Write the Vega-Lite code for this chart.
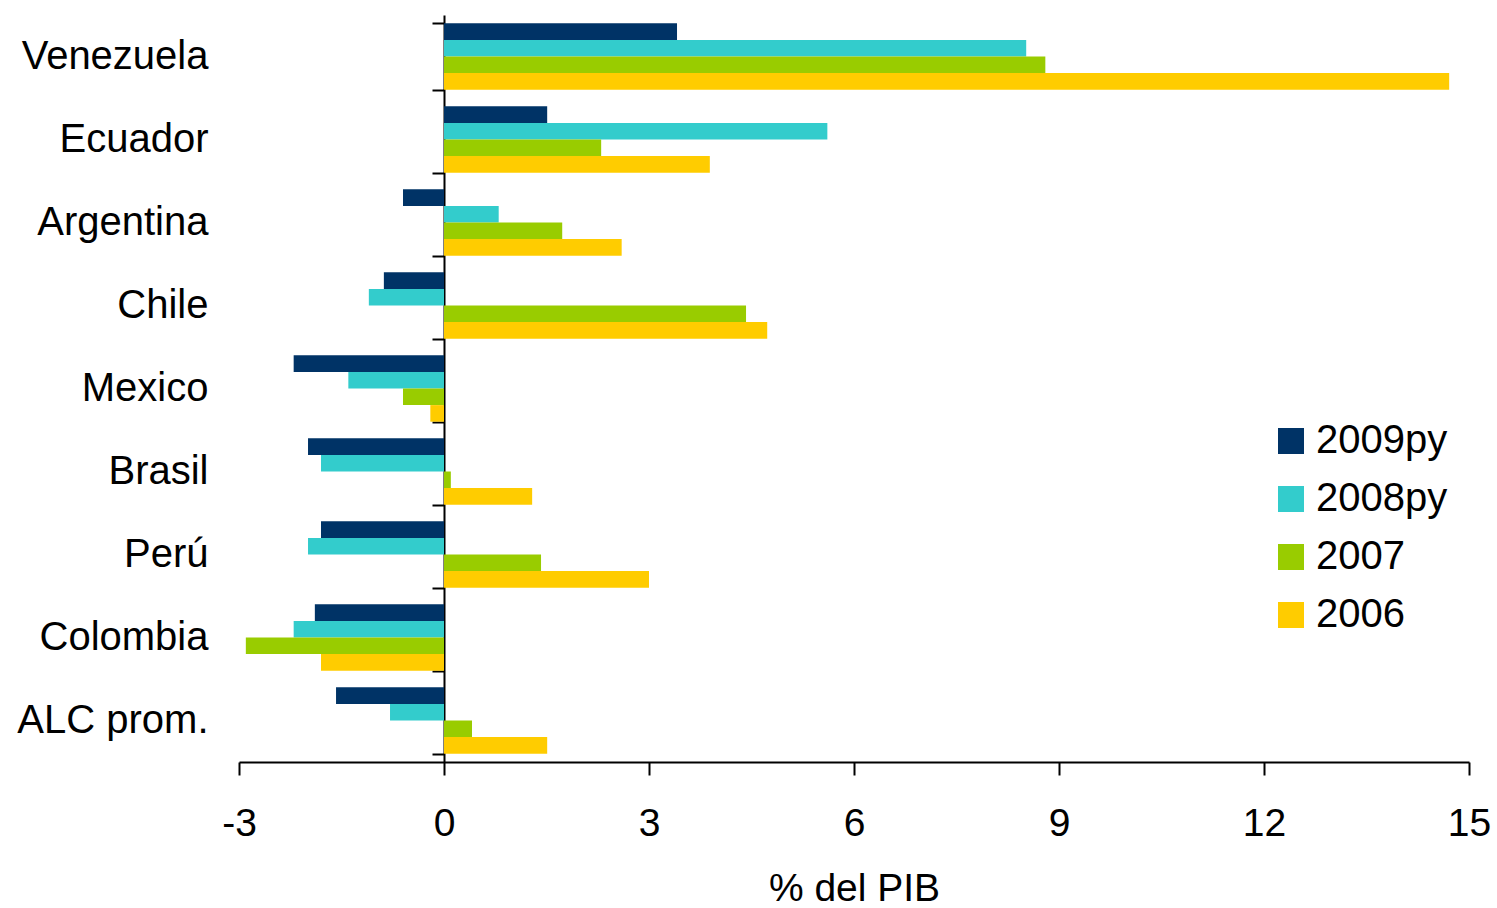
{
  "$schema": "https://vega.github.io/schema/vega-lite/v6.json",
  "width": 1230,
  "height": 747,
  "autosize": "none",
  "padding": {"left": 239, "top": 15, "right": 28, "bottom": 146},
  "background": "white",
  "config": {
    "view": {"stroke": null},
    "font": "Liberation Sans",
    "axis": {"labelFont": "Liberation Sans", "titleFont": "Liberation Sans", "labelColor": "#000000", "titleColor": "#000000", "grid": false}
  },
  "data": {
    "values": [
      {"pais": "Venezuela", "serie": "2009py", "valor": 3.41},
      {"pais": "Venezuela", "serie": "2008py", "valor": 8.52},
      {"pais": "Venezuela", "serie": "2007", "valor": 8.8},
      {"pais": "Venezuela", "serie": "2006", "valor": 14.71},
      {"pais": "Ecuador", "serie": "2009py", "valor": 1.51},
      {"pais": "Ecuador", "serie": "2008py", "valor": 5.61},
      {"pais": "Ecuador", "serie": "2007", "valor": 2.3},
      {"pais": "Ecuador", "serie": "2006", "valor": 3.89},
      {"pais": "Argentina", "serie": "2009py", "valor": -0.6},
      {"pais": "Argentina", "serie": "2008py", "valor": 0.8},
      {"pais": "Argentina", "serie": "2007", "valor": 1.73},
      {"pais": "Argentina", "serie": "2006", "valor": 2.6},
      {"pais": "Chile", "serie": "2009py", "valor": -0.88},
      {"pais": "Chile", "serie": "2008py", "valor": -1.1},
      {"pais": "Chile", "serie": "2007", "valor": 4.42},
      {"pais": "Chile", "serie": "2006", "valor": 4.73},
      {"pais": "Mexico", "serie": "2009py", "valor": -2.2},
      {"pais": "Mexico", "serie": "2008py", "valor": -1.4},
      {"pais": "Mexico", "serie": "2007", "valor": -0.6},
      {"pais": "Mexico", "serie": "2006", "valor": -0.2},
      {"pais": "Brasil", "serie": "2009py", "valor": -1.99},
      {"pais": "Brasil", "serie": "2008py", "valor": -1.8},
      {"pais": "Brasil", "serie": "2007", "valor": 0.1},
      {"pais": "Brasil", "serie": "2006", "valor": 1.29},
      {"pais": "Perú", "serie": "2009py", "valor": -1.8},
      {"pais": "Perú", "serie": "2008py", "valor": -1.99},
      {"pais": "Perú", "serie": "2007", "valor": 1.42},
      {"pais": "Perú", "serie": "2006", "valor": 3.0},
      {"pais": "Colombia", "serie": "2009py", "valor": -1.89},
      {"pais": "Colombia", "serie": "2008py", "valor": -2.2},
      {"pais": "Colombia", "serie": "2007", "valor": -2.9},
      {"pais": "Colombia", "serie": "2006", "valor": -1.8},
      {"pais": "ALC prom.", "serie": "2009py", "valor": -1.58},
      {"pais": "ALC prom.", "serie": "2008py", "valor": -0.79},
      {"pais": "ALC prom.", "serie": "2007", "valor": 0.41},
      {"pais": "ALC prom.", "serie": "2006", "valor": 1.51}
    ]
  },
  "layer": [
    {
      "mark": {"type": "bar"},
      "encoding": {
        "y": {
          "field": "pais", "type": "nominal",
          "sort": ["Venezuela", "Ecuador", "Argentina", "Chile", "Mexico", "Brasil", "Perú", "Colombia", "ALC prom."],
          "scale": {"paddingInner": 0.2, "paddingOuter": 0.1},
          "axis": {"title": null, "domain": false, "ticks": false, "labelFontSize": 40, "labelPadding": 31, "labelLimit": 0, "orient": "left"}
        },
        "yOffset": {
          "field": "serie", "type": "nominal",
          "sort": ["2009py", "2008py", "2007", "2006"],
          "scale": {"paddingInner": 0, "paddingOuter": 0}
        },
        "x": {
          "field": "valor", "type": "quantitative",
          "scale": {"domain": [-3, 15], "nice": false, "zero": false},
          "axis": {
            "values": [-3, 0, 3, 6, 9, 12, 15],
            "labelExpr": "'' + datum.value",
            "labelFlush": false, "labelOverlap": false,
            "title": "% del PIB", "titleFontSize": 39, "titleFontWeight": "normal", "titlePadding": 26,
            "labelFontSize": 39, "labelPadding": 29,
            "domainColor": "#000000", "domainWidth": 2, "tickColor": "#000000", "tickWidth": 2, "tickSize": 13
          }
        },
        "color": {
          "field": "serie", "type": "nominal",
          "scale": {"domain": ["2009py", "2008py", "2007", "2006"], "range": ["#003366", "#33CCCC", "#99CC00", "#FFCC00"]},
          "legend": {
            "title": null, "orient": "none", "legendX": 1032, "legendY": 406,
            "symbolType": "square", "symbolSize": 676, "symbolStrokeWidth": 0, "symbolOpacity": 1,
            "labelFontSize": 40, "labelFont": "Liberation Sans", "labelColor": "#000000", "labelOffset": 5,
            "rowPadding": 18, "padding": 0
          }
        }
      }
    },
    {
      "mark": {"type": "bar", "opacity": 0},
      "encoding": {
        "y": {
          "field": "pais", "type": "nominal",
          "sort": ["Venezuela", "Ecuador", "Argentina", "Chile", "Mexico", "Brasil", "Perú", "Colombia", "ALC prom."],
          "axis": {"title": null, "orient": "left", "offset": -205, "labels": false, "tickBand": "extent", "domainColor": "#000000", "domainWidth": 2, "tickColor": "#000000", "tickWidth": 2, "tickSize": 12}
        },
        "x": {"field": "valor", "type": "quantitative"}
      }
    }
  ],
  "resolve": {"axis": {"y": "independent"}}
}
